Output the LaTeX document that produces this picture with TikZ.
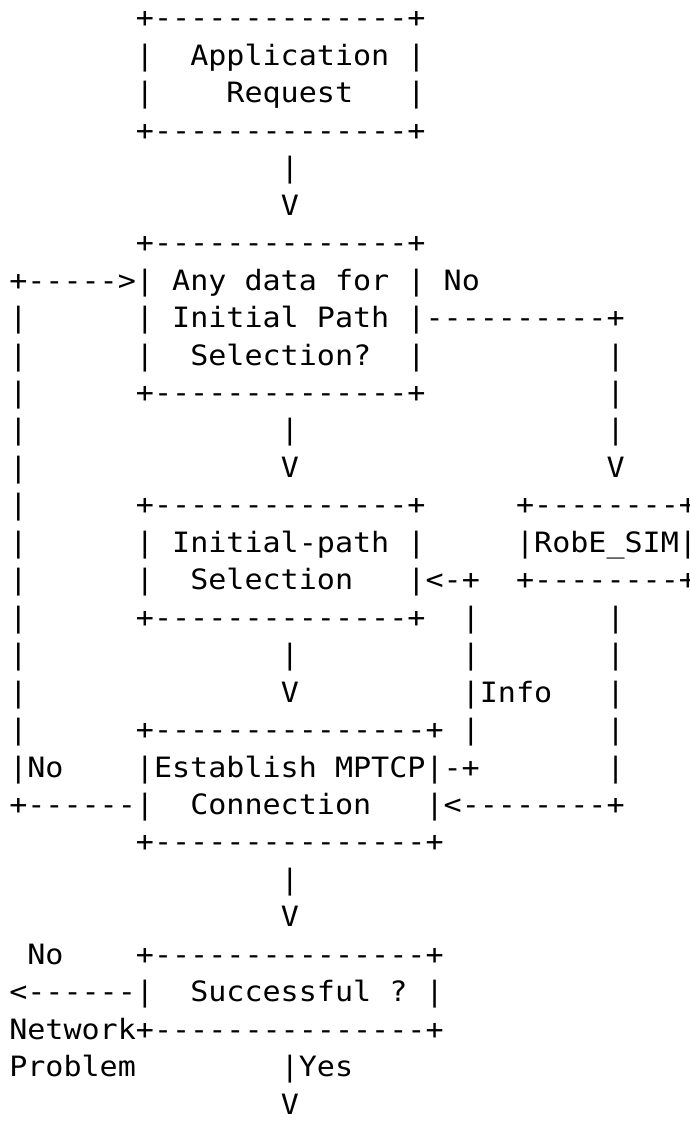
\documentclass[tikz,border=0pt]{standalone}
\usepackage{fontspec}
\setmonofont{DejaVu Sans Mono}[FakeStretch=1.0737]
\newcommand\placeseg[4]{\node[asc] (#1) at ({9.25+18.1*#2},{-28-37.45*(#3-1)}) {#4};}
\begin{document}
\begin{tikzpicture}[x=1pt,y=1pt,
  asc/.style={anchor=base west,inner sep=0pt,outer sep=0pt,text=black,
    font=\ttfamily\fontsize{28pt}{28pt}\selectfont}]
\useasboundingbox (0,0) rectangle (690,-1124);
% Application Request box
\placeseg{appT}{7}{1}{+--------------+}
\placeseg{appL1}{7}{2}{|}
\placeseg{appA}{10}{2}{Application}
\placeseg{appR1}{22}{2}{|}
\placeseg{appL2}{7}{3}{|}
\placeseg{appB}{12}{3}{Request}
\placeseg{appR2}{22}{3}{|}
\placeseg{appD}{7}{4}{+--------------+}
\placeseg{c1a}{15}{5}{|}
\placeseg{c1b}{15}{6}{V}
% Any data box
\placeseg{anyT}{7}{7}{+--------------+}
\placeseg{loopA}{0}{8}{+----->|}
\placeseg{anyA}{9}{8}{Any data for}
\placeseg{anyR1}{22}{8}{|}
\placeseg{noA}{24}{8}{No}
\placeseg{lp9}{0}{9}{|}
\placeseg{anyL2}{7}{9}{|}
\placeseg{anyB}{9}{9}{Initial Path}
\placeseg{noLine}{22}{9}{|----------+}
\placeseg{lp10}{0}{10}{|}
\placeseg{anyL3}{7}{10}{|}
\placeseg{anyC}{10}{10}{Selection?}
\placeseg{anyR3}{22}{10}{|}
\placeseg{nr10}{33}{10}{|}
\placeseg{lp11}{0}{11}{|}
\placeseg{anyD}{7}{11}{+--------------+}
\placeseg{nr11}{33}{11}{|}
\placeseg{lp12}{0}{12}{|}
\placeseg{c2a}{15}{12}{|}
\placeseg{nr12}{33}{12}{|}
\placeseg{lp13}{0}{13}{|}
\placeseg{c2b}{15}{13}{V}
\placeseg{nr13}{33}{13}{V}
% Initial-path Selection box and RobE_SIM box
\placeseg{lp14}{0}{14}{|}
\placeseg{ipT}{7}{14}{+--------------+}
\placeseg{robT}{28}{14}{+--------+}
\placeseg{lp15}{0}{15}{|}
\placeseg{ipL1}{7}{15}{|}
\placeseg{ipA}{9}{15}{Initial-path}
\placeseg{ipR1}{22}{15}{|}
\placeseg{rob}{28}{15}{|RobE\_SIM|}
\placeseg{lp16}{0}{16}{|}
\placeseg{ipL2}{7}{16}{|}
\placeseg{ipB}{10}{16}{Selection}
\placeseg{infoArr}{22}{16}{|<-+}
\placeseg{robD}{28}{16}{+--------+}
\placeseg{lp17}{0}{17}{|}
\placeseg{ipD}{7}{17}{+--------------+}
\placeseg{inf17}{25}{17}{|}
\placeseg{rb17}{33}{17}{|}
\placeseg{lp18}{0}{18}{|}
\placeseg{c3a}{15}{18}{|}
\placeseg{inf18}{25}{18}{|}
\placeseg{rb18}{33}{18}{|}
\placeseg{lp19}{0}{19}{|}
\placeseg{c3b}{15}{19}{V}
\placeseg{info}{25}{19}{|Info}
\placeseg{rb19}{33}{19}{|}
% Establish MPTCP Connection box
\placeseg{lp20}{0}{20}{|}
\placeseg{estT}{7}{20}{+---------------+}
\placeseg{inf20}{25}{20}{|}
\placeseg{rb20}{33}{20}{|}
\placeseg{noB}{0}{21}{|No}
\placeseg{estA}{7}{21}{|Establish MPTCP|-+}
\placeseg{rb21}{33}{21}{|}
\placeseg{loopB}{0}{22}{+------|}
\placeseg{estB}{10}{22}{Connection}
\placeseg{robArr}{23}{22}{|<--------+}
\placeseg{estD}{7}{23}{+---------------+}
\placeseg{c4a}{15}{24}{|}
\placeseg{c4b}{15}{25}{V}
% Successful box
\placeseg{noC}{1}{26}{No}
\placeseg{sucT}{7}{26}{+---------------+}
\placeseg{failArr}{0}{27}{<------|}
\placeseg{sucA}{10}{27}{Successful ?}
\placeseg{sucR}{23}{27}{|}
\placeseg{sucD}{0}{28}{Network+---------------+}
\placeseg{prob}{0}{29}{Problem}
\placeseg{yes}{15}{29}{|Yes}
\placeseg{c5b}{15}{30}{V}
\end{tikzpicture}
\end{document}
